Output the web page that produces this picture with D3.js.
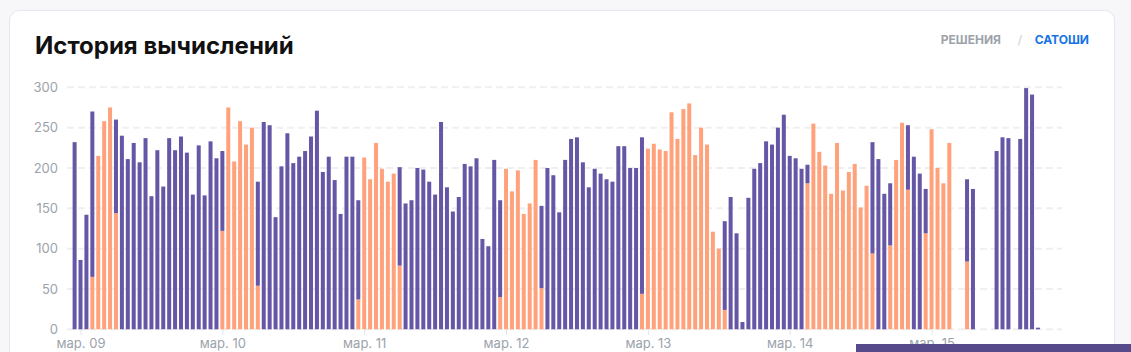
<!DOCTYPE html>
<html lang="ru">
<head>
<meta charset="UTF-8">
<title>История вычислений</title>
<script src="https://d3js.org/d3.v7.min.js"></script>
<style>
    body {
        margin: 0;
        padding: 0;
        background: #f7f7f9;
        font-family: Inter, "Noto Sans", sans-serif;
    }
    svg { display: block; }
</style>
</head>
<body>
<svg id="chart"></svg>
<script>
    // hourly values, first bar = 8 March 23:00
    const startHour = new Date(2024, 2, 8, 23);
    const totals = [
        232, 86, 142, 270, 215, 258, 275, 260, 240, 211, 231, 207, 237, 165, 222, 177, 237, 222, 239, 219,
        167, 228, 166, 233, 212, 221, 275, 208, 258, 229, 250, 183, 257, 253, 139, 202, 243, 206, 214, 221,
        239, 271, 195, 214, 185, 143, 214, 214, 160, 213, 186, 231, 199, 183, 193, 201, 156, 160, 200, 198,
        183, 167, 257, 176, 146, 164, 205, 202, 212, 112, 103, 210, 160, 199, 171, 197, 143, 156, 210, 153,
        200, 191, 145, 210, 236, 238, 207, 176, 199, 193, 186, 183, 227, 227, 200, 200, 238, 224, 230, 223,
        221, 269, 236, 273, 280, 216, 250, 229, 121, 100, 134, 164, 119, 9, 163, 199, 206, 233, 229, 250,
        266, 215, 212, 199, 204, 255, 220, 203, 168, 231, 172, 195, 205, 151, 178, 232, 211, 168, 181, 210,
        256, 253, 214, 193, 174, 248, 200, 181, 231, 0, 0, 186, 174, 0, 0, 0, 221, 238, 237, 0,
        236, 299, 291, 2, 0, 0, 0, 0
    ];
    // "решения" part of each bar (orange, bottom)
    const solved = [
        0, 0, 0, 65, 215, 258, 275, 144, 0, 0, 0, 0, 0, 0, 0, 0, 0, 0, 0, 0,
        0, 0, 0, 0, 0, 122, 275, 208, 258, 229, 250, 54, 0, 0, 0, 0, 0, 0, 0, 0,
        0, 0, 0, 0, 0, 0, 0, 0, 37, 213, 186, 231, 199, 183, 193, 79, 0, 0, 0, 0,
        0, 0, 0, 0, 0, 0, 0, 0, 0, 0, 0, 0, 40, 199, 171, 197, 143, 156, 210, 51,
        0, 0, 0, 0, 0, 0, 0, 0, 0, 0, 0, 0, 0, 0, 0, 0, 44, 224, 230, 223,
        221, 269, 236, 273, 280, 216, 250, 229, 121, 100, 24, 0, 0, 0, 0, 0, 0, 0, 0, 0,
        0, 0, 0, 0, 181, 255, 220, 203, 168, 231, 172, 195, 205, 151, 178, 94, 0, 0, 104, 210,
        256, 173, 0, 0, 119, 248, 200, 181, 231, 0, 0, 84, 0, 0, 0, 0, 0, 0, 0, 0,
        0, 0, 0, 0, 0, 0, 0, 0
    ];
    const yTicks = [0, 50, 100, 150, 200, 250, 300];
    const xTickDays = [9, 10, 11, 12, 13, 14, 15];
    const xTickLabels = ["мар. 09", "мар. 10", "мар. 11", "мар. 12", "мар. 13", "мар. 14", "мар. 15"];

    const W = 1131, H = 352;
    const purpleColor = "#6656a6";
    const orangeColor = "#ffa27c";

    const data = totals.map((t, i) => ({
        time: d3.timeHour.offset(startHour, i),
        orange: solved[i],
        purple: t - solved[i]
    }));

    const svg = d3.select("#chart").attr("width", W).attr("height", H);

    // card
    svg.append("rect")
        .attr("x", 9.5).attr("y", 10.5)
        .attr("width", 1105).attr("height", 380)
        .attr("rx", 10)
        .attr("fill", "#fff")
        .attr("stroke", "#e7e5f2");

    svg.append("text")
        .attr("x", 35).attr("y", 54)
        .attr("font-size", 24).attr("font-weight", 700)
        .attr("fill", "#111")
        .text("История вычислений");

    const tabs = svg.append("g").attr("font-size", 12).attr("font-weight", 700);
    tabs.append("text").attr("x", 1001).attr("y", 44).attr("text-anchor", "end")
        .attr("fill", "#9da3aa").text("РЕШЕНИЯ");
    tabs.append("text").attr("x", 1020).attr("y", 44).attr("text-anchor", "middle")
        .attr("fill", "#c9ced4").attr("font-weight", 400).text("/");
    tabs.append("text").attr("x", 1089).attr("y", 44).attr("text-anchor", "end")
        .attr("fill", "#1573e6").text("САТОШИ");

    const x = d3.scaleTime()
        .domain([new Date(2024, 2, 8, 22), new Date(2024, 2, 15, 22)])
        .range([68.7, 1061.6]);
    const y = d3.scaleLinear().domain([0, 300]).range([329.3, 87.3]);

    // grid
    svg.append("g")
        .selectAll("line")
        .data(yTicks)
        .join("line")
        .attr("x1", 67).attr("x2", 1062)
        .attr("y1", d => y(d)).attr("y2", d => y(d))
        .attr("stroke", "#efeff1")
        .attr("stroke-width", 2)
        .attr("stroke-dasharray", "7 4");

    const yAxis = d3.axisLeft(y).tickValues(yTicks).tickSize(0).tickPadding(0);
    svg.append("g")
        .attr("transform", "translate(58,0)")
        .call(yAxis)
        .call(g => g.select(".domain").remove())
        .call(g => g.selectAll("text")
            .attr("font-family", "Inter, sans-serif")
            .attr("font-size", 13)
            .attr("fill", "#9ba3ab"));

    const barW = 4;
    const bars = svg.append("g");
    bars.selectAll(".o")
        .data(data.filter(d => d.orange > 0))
        .join("rect")
        .attr("x", d => x(d.time) - barW / 2)
        .attr("width", barW)
        .attr("y", d => y(d.orange))
        .attr("height", d => y(0) - y(d.orange))
        .attr("fill", orangeColor);
    bars.selectAll(".p")
        .data(data.filter(d => d.purple > 0))
        .join("rect")
        .attr("x", d => x(d.time) - barW / 2)
        .attr("width", barW)
        .attr("y", d => y(d.orange + d.purple))
        .attr("height", d => y(d.orange) - y(d.orange + d.purple))
        .attr("fill", purpleColor);

    const tickDates = xTickDays.map(d => new Date(2024, 2, d));
    const xAxis = d3.axisBottom(x)
        .tickValues(tickDates)
        .tickSize(5)
        .tickPadding(4)
        .tickFormat((d, i) => xTickLabels[i]);
    svg.append("g")
        .attr("transform", "translate(0,330)")
        .call(xAxis)
        .call(g => g.select(".domain").remove())
        .call(g => g.selectAll("line").attr("stroke", "#e3e5e8"))
        .call(g => g.selectAll("text")
            .attr("font-family", "Inter, sans-serif")
            .attr("font-size", 13)
            .attr("fill", "#9ba3ab"));

    // floating bar at the bottom right
    svg.append("rect")
        .attr("x", 856).attr("y", 344)
        .attr("width", W - 856).attr("height", 8)
        .attr("fill", "#564a8b");
</script>
</body>
</html>
